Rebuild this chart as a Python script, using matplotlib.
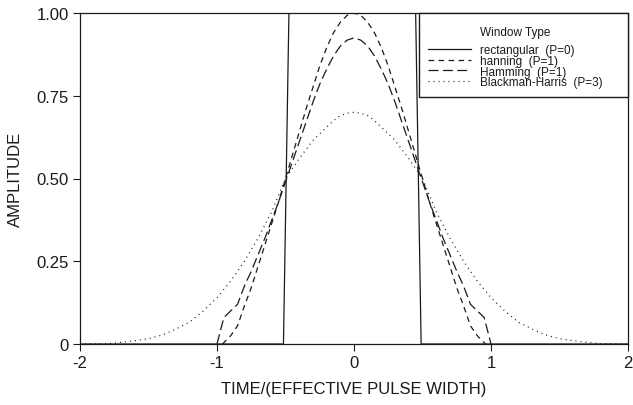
import matplotlib
matplotlib.use("Agg")
import matplotlib.pyplot as plt

plt.rcParams["font.family"] = ["Liberation Sans", "DejaVu Sans"]
plt.rcParams["axes.unicode_minus"] = False

# Window shapes versus time normalised by effective pulse width
rect_x = [-2.0, -0.515, -0.475, 0.45, 0.49, 2.0]
rect_y = [0.0, 0.0, 1.0, 1.0, 0.0, 0.0]

hann_x = [-0.96, -0.9, -0.85, -0.8, -0.75, -0.7, -0.65, -0.6, -0.55, -0.5,
          -0.45, -0.4, -0.35, -0.3, -0.25, -0.2, -0.15, -0.1, -0.05, 0.0,
          0.05, 0.1, 0.15, 0.2, 0.25, 0.3, 0.35, 0.4, 0.45, 0.5,
          0.55, 0.6, 0.65, 0.7, 0.75, 0.8, 0.85, 0.9, 0.96]
hann_y = [0.0, 0.025, 0.055, 0.115, 0.17, 0.235, 0.30, 0.365, 0.43, 0.50,
          0.57, 0.64, 0.71, 0.775, 0.84, 0.895, 0.94, 0.972, 0.993, 1.0,
          0.993, 0.972, 0.94, 0.895, 0.84, 0.775, 0.71, 0.64, 0.57, 0.50,
          0.43, 0.365, 0.30, 0.235, 0.17, 0.115, 0.055, 0.025, 0.0]

hamm_x = [-1.0, -0.95, -0.9, -0.85, -0.8, -0.75, -0.7, -0.65, -0.6, -0.55,
          -0.5, -0.45, -0.4, -0.35, -0.3, -0.25, -0.2, -0.15, -0.1, -0.05, 0.0,
          0.05, 0.1, 0.15, 0.2, 0.25, 0.3, 0.35, 0.4, 0.45, 0.5,
          0.55, 0.6, 0.65, 0.7, 0.75, 0.8, 0.85, 0.9, 0.95, 1.0]
hamm_y = [0.0, 0.08, 0.10, 0.12, 0.175, 0.22, 0.27, 0.32, 0.375, 0.43,
          0.49, 0.55, 0.61, 0.67, 0.73, 0.785, 0.83, 0.87, 0.90, 0.918, 0.925,
          0.918, 0.90, 0.87, 0.83, 0.785, 0.73, 0.67, 0.61, 0.55, 0.49,
          0.43, 0.375, 0.32, 0.27, 0.22, 0.175, 0.12, 0.10, 0.08, 0.0]

bh_x = [-2.0, -1.8, -1.7, -1.6, -1.5, -1.4, -1.3, -1.2, -1.1, -1.0, -0.9, -0.8,
        -0.7, -0.6, -0.5, -0.4, -0.3, -0.2, -0.15, -0.1, -0.05, 0.0,
        0.05, 0.1, 0.15, 0.2, 0.3, 0.4, 0.5, 0.6, 0.7, 0.8, 0.9, 1.0,
        1.1, 1.2, 1.3, 1.4, 1.5, 1.6, 1.7, 1.8, 2.0]
bh_y = [0.0, 0.001, 0.005, 0.01, 0.016, 0.027, 0.045, 0.066, 0.10, 0.14, 0.19,
        0.25, 0.32, 0.40, 0.50, 0.56, 0.615, 0.655, 0.675, 0.69, 0.697, 0.70,
        0.697, 0.69, 0.675, 0.655, 0.615, 0.56, 0.50, 0.40, 0.32, 0.25, 0.19,
        0.14, 0.10, 0.066, 0.045, 0.027, 0.016, 0.01, 0.005, 0.001, 0.0]

legend_title = "Window Type"
labels = ["rectangular  (P=0)", "hanning  (P=1)", "Hamming  (P=1)",
          "Blackman-Harris  (P=3)     "]
x_ticks = [-2, -1, 0, 1, 2]
y_ticks = [0, 0.25, 0.5, 0.75, 1.0]
y_tick_labels = ["0", "0.25", "0.50", "0.75", "1.00"]

ink = "#1a1a1a"
fig = plt.figure(figsize=(6.33, 4.06), dpi=100)
ax = fig.add_axes([80 / 633, 61 / 406, 548 / 633, 331 / 406])

ax.plot(rect_x, rect_y, color=ink, lw=0.9, label=labels[0])
ax.plot(hann_x, hann_y, color=ink, lw=0.9, dashes=(4.5, 3.5), label=labels[1])
ax.plot(hamm_x, hamm_y, color=ink, lw=0.9, dashes=(8, 3.5), label=labels[2])
ax.plot(bh_x, bh_y, color=ink, lw=0.9, dashes=(0.8, 3.2), label=labels[3])

ax.set_xlim(-2, 2)
ax.set_ylim(0, 1.0)
ax.set_xticks(x_ticks)
ax.set_xticklabels([str(t) for t in x_ticks])
ax.set_yticks(y_ticks)
ax.set_yticklabels(y_tick_labels)
ax.tick_params(direction="out", length=5, width=0.8, labelsize=12,
               colors=ink, pad=3)
for s in ax.spines.values():
    s.set_linewidth(0.9)
    s.set_color(ink)

ax.set_xlabel("TIME/(EFFECTIVE PULSE WIDTH)", fontsize=12, color=ink, labelpad=8)
ax.set_ylabel("AMPLITUDE", fontsize=12, color=ink, labelpad=10)

# blank title reserves the header row; the heading sits over the label column
leg = ax.legend(title=" ", loc="upper right", fontsize=8.5,
                title_fontsize=18, frameon=True, fancybox=False,
                framealpha=1.0, edgecolor=ink, borderaxespad=0,
                handlelength=3.65, handletextpad=0.75, labelspacing=-0.12,
                borderpad=0.75)
leg.get_frame().set_linewidth(1.0)
for t in leg.get_texts():
    t.set_color(ink)

# lay out the legend once so the heading can be placed relative to its labels
fig.canvas.draw()
ax.annotate(legend_title, xy=(0, 0.5), xycoords=leg.get_texts()[0],
            xytext=(0, 13), textcoords="offset points", ha="left",
            va="center", fontsize=8.5, color=ink, zorder=10)

fig.savefig("out.png", dpi=100)
